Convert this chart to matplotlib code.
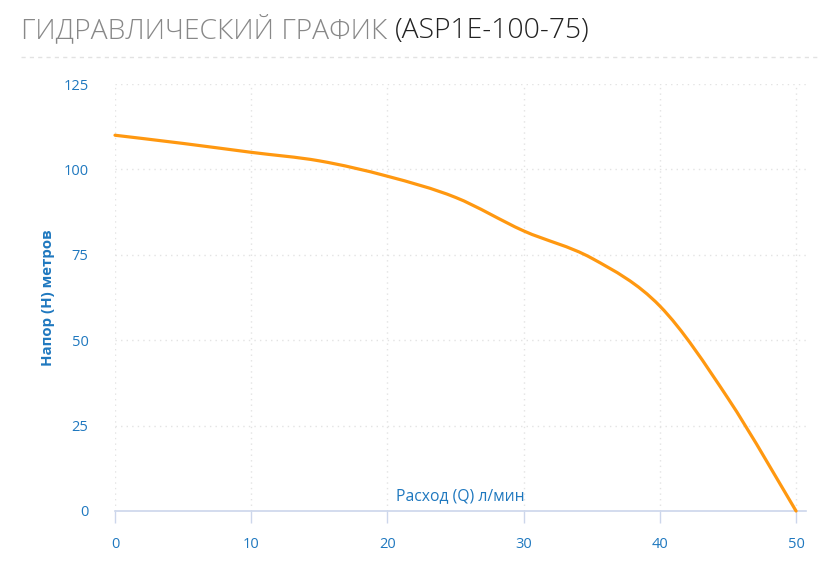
import numpy as np
import matplotlib
matplotlib.use("Agg")
from matplotlib import pyplot as plt
from matplotlib.path import Path
from matplotlib.patches import PathPatch
from matplotlib.lines import Line2D

# pump curve
flow = [0, 5, 10, 15, 20, 25, 30, 35, 40, 45, 50]
head = [110, 107.6, 105, 102.5, 98, 91.8, 82, 74, 60, 33, 0]
x_ticks = [0, 10, 20, 30, 40, 50]
y_ticks = [0, 25, 50, 75, 100, 125]

title_main = "ГИДРАВЛИЧЕСКИЙ ГРАФИК "
title_model = "(ASP1E-100-75)"
x_label = "Расход (Q) л/мин"
y_label = "Напор (H) метров"

blue = "#1f78bf"
grid_col = "#e3e3e3"
axis_col = "#ccd6eb"

plt.rcParams['font.family'] = ['Open Sans', 'DejaVu Sans']

W, H = 836, 582
fig = plt.figure(figsize=(W / 100, H / 100), dpi=100)
ax = fig.add_axes([115 / W, 1 - 511 / H, (806 - 115) / W, (511 - 84) / H])

ax.set_xlim(0, 50.73)
ax.set_ylim(0, 125)

# smooth spline through the points (catmull-rom as bezier)
pts = np.column_stack([flow, head]).astype(float)
verts = [pts[0]]
codes = [Path.MOVETO]
n = len(pts)
for i in range(n - 1):
    p0 = pts[i - 1] if i > 0 else pts[i]
    p1 = pts[i]
    p2 = pts[i + 1]
    p3 = pts[i + 2] if i + 2 < n else pts[i + 1]
    c1 = p1 + (p2 - p0) / 6
    c2 = p2 - (p3 - p1) / 6
    verts += [c1, c2, p2]
    codes += [Path.CURVE4] * 3
ax.add_patch(PathPatch(Path(verts, codes), facecolor='none', edgecolor='#ff9810',
                       lw=2.3, capstyle='round', joinstyle='round', zorder=5,
                       clip_on=False))

# grid
ax.set_xticks(x_ticks)
ax.set_yticks(y_ticks)
for v in y_ticks[1:]:
    ax.axhline(v, color=grid_col, lw=1, ls=(0, (1, 3)), zorder=1)
for v in x_ticks:
    ax.axvline(v, color=grid_col, lw=1, ls=(0, (1, 3)), zorder=1)

for s in ['top', 'right', 'left']:
    ax.spines[s].set_visible(False)
ax.spines['bottom'].set_color(axis_col)
ax.spines['bottom'].set_linewidth(1.2)

ax.tick_params(axis='x', length=8.5, width=1, color=axis_col, pad=10,
               labelsize=10.5, labelcolor=blue)
ax.tick_params(axis='y', length=0, pad=19, labelsize=10.5, labelcolor=blue)

ax.text(0.5, 15 / (511 - 84), x_label, transform=ax.transAxes, ha='center',
        va='center', fontsize=11.3, color=blue)
fig.text(48 / W, 1 - 297.5 / H, y_label, rotation=90, ha='center', va='center',
         fontsize=10.8, fontweight='bold', color=blue)

# title in two colours
t1 = fig.text(21 / W, 1 - 38.3 / H, title_main, fontsize=20.3, fontweight='light',
              color='#888888', va='baseline', ha='left')
ax.annotate(title_model, xy=(1, 0), xycoords=t1, va='bottom', ha='left',
            fontsize=20.3, fontweight='light', color='#222222',
            annotation_clip=False)

fig.add_artist(Line2D([21 / W, 820 / W], [1 - 57 / H, 1 - 57 / H],
                      transform=fig.transFigure, color='#e2e2e2', lw=1,
                      ls=(0, (3, 3))))

fig.savefig("out.png", dpi=100)
